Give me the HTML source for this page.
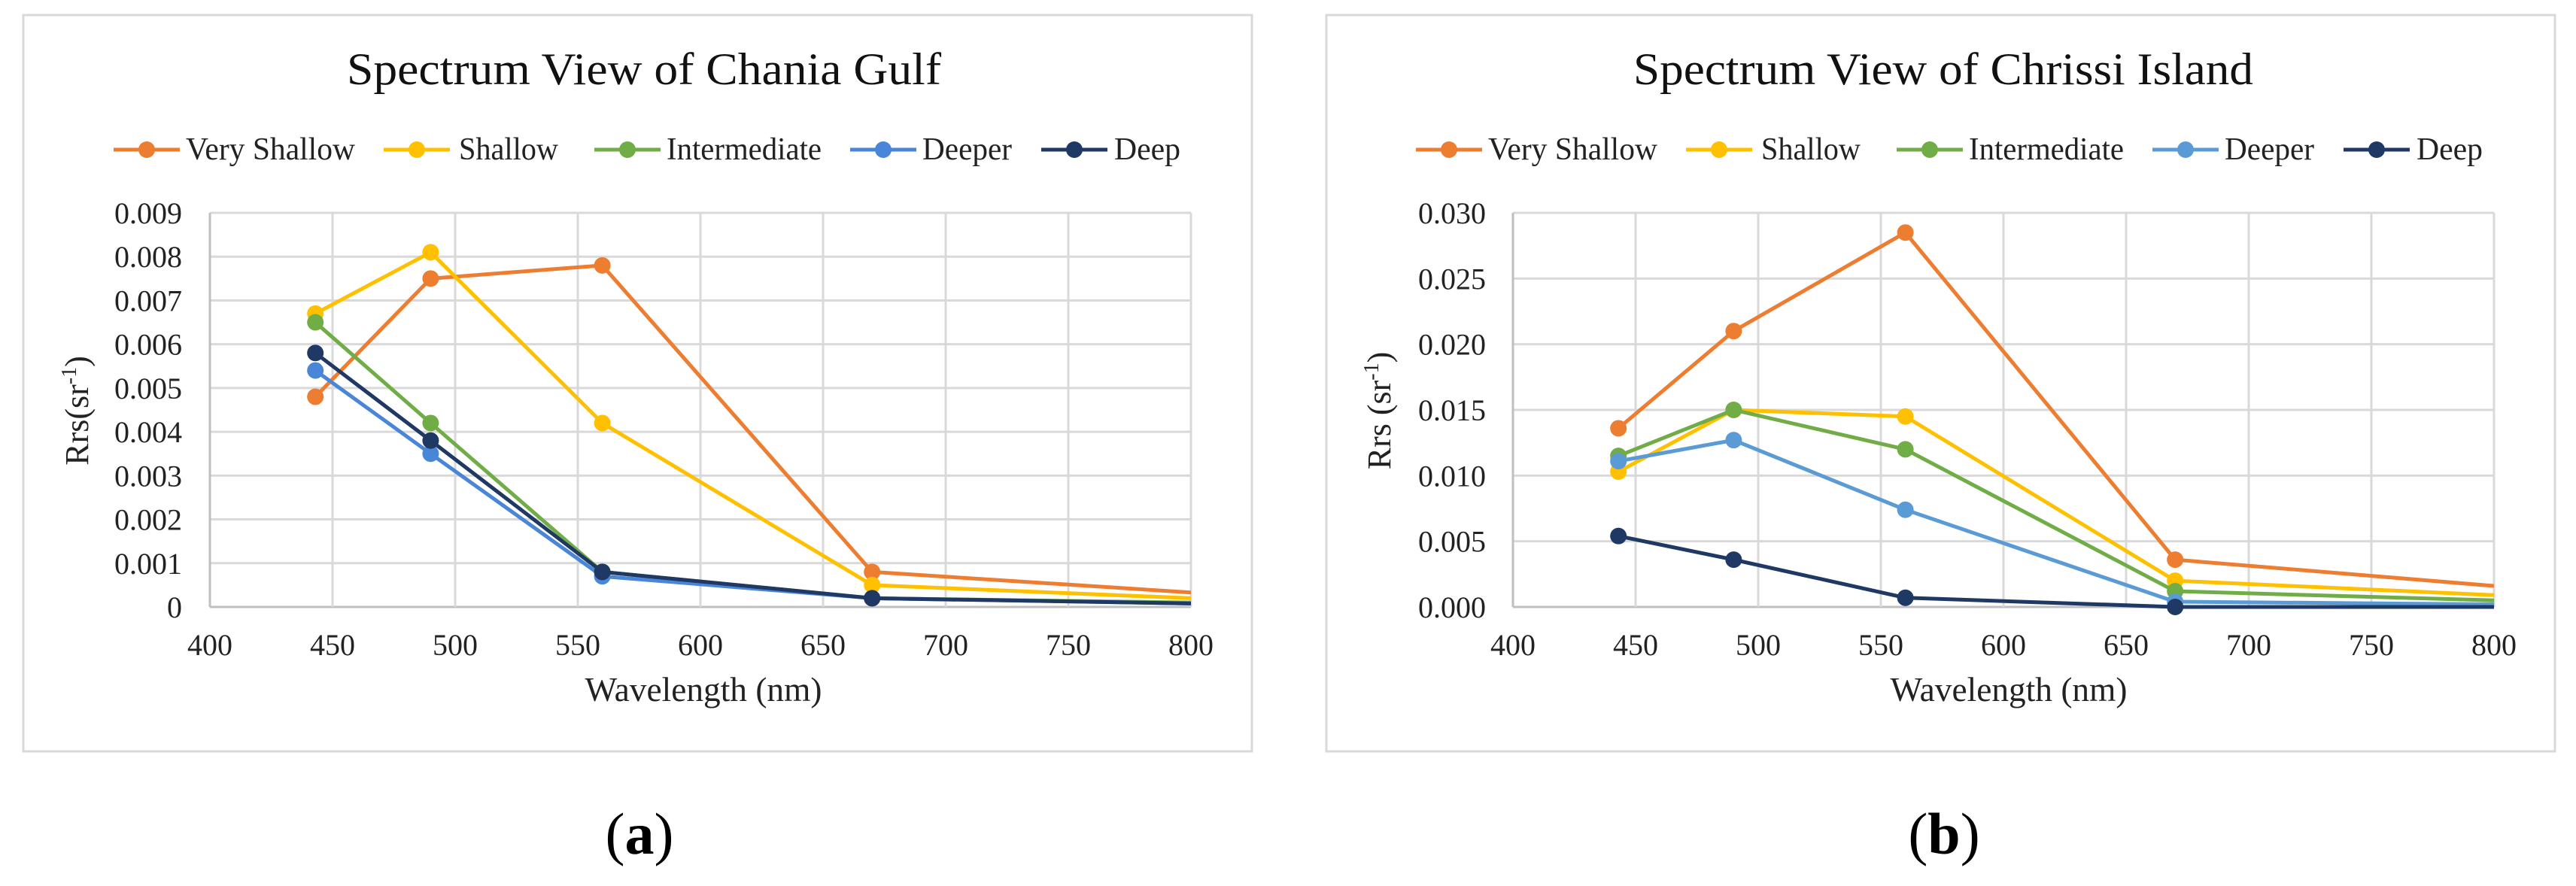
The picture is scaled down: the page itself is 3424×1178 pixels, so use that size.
<!DOCTYPE html>
<html><head><meta charset="utf-8">
<style>
html,body{margin:0;padding:0;background:#fff;}
svg{display:block;font-family:"Liberation Serif","Times New Roman",serif;}
</style></head>
<body>
<svg id="fig" width="3424" height="1178" viewBox="0 0 3424 1178" xmlns="http://www.w3.org/2000/svg">
<rect x="0" y="0" width="3424" height="1178" fill="#fff"/>
</svg>
<script>
// shared wavelengths
const wavelengths = [443, 490, 560, 670, 800];
const seriesNames = ["Very Shallow", "Shallow", "Intermediate", "Deeper", "Deep"];
// Chania Gulf (a)
const chaniaVeryShallow = [0.0048, 0.0075, 0.0078, 0.0008, 0.00033];
const chaniaShallow = [0.0067, 0.0081, 0.0042, 0.0005, 0.0002];
const chaniaIntermediate = [0.0065, 0.0042, 0.0008, 0.0002, 0.0001];
const chaniaDeeper = [0.0054, 0.0035, 0.0007, 0.0002, 0.00008];
const chaniaDeep = [0.0058, 0.0038, 0.0008, 0.0002, 0.00008];
const chaniaYTicks = ["0", "0.001", "0.002", "0.003", "0.004", "0.005", "0.006", "0.007", "0.008", "0.009"];
const chaniaYMax = 0.009;
// Chrissi Island (b)
const chrissiVeryShallow = [0.0136, 0.021, 0.0285, 0.0036, 0.0016];
const chrissiShallow = [0.0103, 0.015, 0.0145, 0.002, 0.0009];
const chrissiIntermediate = [0.0115, 0.015, 0.012, 0.0012, 0.0005];
const chrissiDeeper = [0.0111, 0.0127, 0.0074, 0.0004, 0.0002];
const chrissiDeep = [0.0054, 0.0036, 0.0007, 0.0, 0.0];
const chrissiYTicks = ["0.000", "0.005", "0.010", "0.015", "0.020", "0.025", "0.030"];
const chrissiYMax = 0.030;
const xTicks = [400, 450, 500, 550, 600, 650, 700, 750, 800];

const NS = "http://www.w3.org/2000/svg";
const svg = document.getElementById('fig');
function mk(tag, attrs, parent, text) {
  const e = document.createElementNS(NS, tag);
  for (const k in attrs) e.setAttribute(k, attrs[k]);
  if (text !== undefined) e.textContent = text;
  (parent || svg).appendChild(e);
  return e;
}

function drawChart(cfg) {
  const g = mk('g', {});
  
  
  const box = mk('rect', {x: cfg.bx, y: 20, width: 1633, height: 979, fill: '#fff', stroke: '#d9d9d9', 'stroke-width': 3}, g);
  
  
  const L = cfg.px, R = cfg.px + 1304, T = 283, B = 807;
  const xs = v => L + (v - 400) / 400 * (R - L);
  const ys = v => B - v / cfg.ymax * (B - T);
  // title
  const t = mk('text', {x: cfg.titleX, y: 112, 'font-size': 60, textLength: cfg.titleW, lengthAdjust: 'spacingAndGlyphs', fill: '#111'}, g, cfg.title);
  
  
  // gridlines
  cfg.yticks.forEach((lab, i) => {
    const v = i * cfg.ymax / (cfg.yticks.length - 1);
    const y = ys(v);
    const gl = mk('line', {x1: L, x2: R, y1: y, y2: y, stroke: i === 0 ? '#bfbfbf' : '#d9d9d9', 'stroke-width': 3}, g);
    
    
    const tl = mk('text', {x: cfg.ylabR, y: y + 14, 'font-size': 40, 'text-anchor': 'end', fill: '#222'}, g, lab);
    
    
  });
  xTicks.forEach((v) => {
    const x = xs(v);
    const gl = mk('line', {x1: x, x2: x, y1: T, y2: B, stroke: v === 400 ? '#bfbfbf' : '#d9d9d9', 'stroke-width': 3}, g);
    
    
    const tl = mk('text', {x: x, y: 871, 'font-size': 40, 'text-anchor': 'middle', fill: '#222'}, g, String(v));
    
    
  });
  // axis titles
  const xt = mk('text', {x: cfg.xtX, y: 932, 'font-size': 46, 'text-anchor': 'middle', textLength: 315, lengthAdjust: 'spacingAndGlyphs', fill: '#222'}, g, 'Wavelength  (nm)');
  
  
  const yt = mk('text', {x: 0, y: 0, 'font-size': 44, 'text-anchor': 'middle', fill: '#222', transform: 'translate(' + (cfg.ytX + 15) + ',546) rotate(-90)'}, g);
  
  
  mk('tspan', {}, yt, cfg.ylab);
  mk('tspan', {'font-size': 28, dy: -16}, yt, '-1');
  mk('tspan', {dy: 16}, yt, ')');
  // clip
  const cp = mk('clipPath', {id: 'clip-' + cfg.key}, g);
  mk('rect', {x: L - 20, y: T - 30, width: R - L + 20, height: B - T + 60}, cp);
  const sg = mk('g', {'clip-path': 'url(#clip-' + cfg.key + ')'}, g);
  // series
  cfg.series.forEach((vals, si) => {
    const pts = vals.map((v, i) => xs(wavelengths[i]) + ',' + ys(v)).join(' ');
    const pl = mk('polyline', {points: pts, fill: 'none', stroke: cfg.colors[si], 'stroke-width': 5, 'stroke-linejoin': 'round'}, sg);
    
    
    vals.forEach((v, i) => {
      if (wavelengths[i] >= 800) return;
      const c = mk('ellipse', {cx: xs(wavelengths[i]), cy: ys(v), rx: 11, ry: 11, fill: cfg.colors[si]}, sg);
      
      
    });
  });
  // legend
  const legLine = [151, 510, 790, 1130, 1384];
  const legText = [247, 610, 886, 1226, 1481];
  const legW = [225, 132, 206, 119, 88];
  seriesNames.forEach((n, i) => {
    const lg = mk('g', {}, g);
    
    
    const lx = legLine[i] + cfg.shift;
    mk('line', {x1: lx, x2: lx + 88, y1: 199, y2: 199, stroke: cfg.colors[i], 'stroke-width': 5}, lg);
    mk('circle', {cx: lx + 44, cy: 199, r: 11, fill: cfg.colors[i]}, lg);
    mk('text', {x: legText[i] + cfg.shift, y: 212, 'font-size': 42, textLength: legW[i], lengthAdjust: 'spacingAndGlyphs', fill: '#222'}, lg, n);
  });
  // panel label
  const pl = mk('text', {x: cfg.labX, y: 1135, 'font-size': 78, 'text-anchor': 'middle', fill: '#000'}, g);
  
  
  mk('tspan', {}, pl, '(');
  mk('tspan', {'font-weight': 'bold'}, pl, cfg.key);
  mk('tspan', {}, pl, ')');
}

drawChart({key: 'a', bx: 31, px: 279, shift: 0, ymax: chaniaYMax, yticks: chaniaYTicks,
  title: 'Spectrum  View of Chania  Gulf', titleX: 461, titleW: 790, ylabR: 242, xtX: 935, ytX: 102, ylab: 'Rrs(sr', labX: 850,
  colors: ['#ED7D31', '#FFC000', '#70AD47', '#4A86D8', '#1F3864'],
  series: [chaniaVeryShallow, chaniaShallow, chaniaIntermediate, chaniaDeeper, chaniaDeep]});
drawChart({key: 'b', bx: 1763, px: 2011, shift: 1731, ymax: chrissiYMax, yticks: chrissiYTicks,
  title: 'Spectrum  View of Chrissi  Island', titleX: 2171, titleW: 824, ylabR: 1975, xtX: 2670, ytX: 1833, ylab: 'Rrs (sr', labX: 2584,
  colors: ['#ED7D31', '#FFC000', '#70AD47', '#5B9BD5', '#1F3864'],
  series: [chrissiVeryShallow, chrissiShallow, chrissiIntermediate, chrissiDeeper, chrissiDeep]});
</script>
</body></html>
